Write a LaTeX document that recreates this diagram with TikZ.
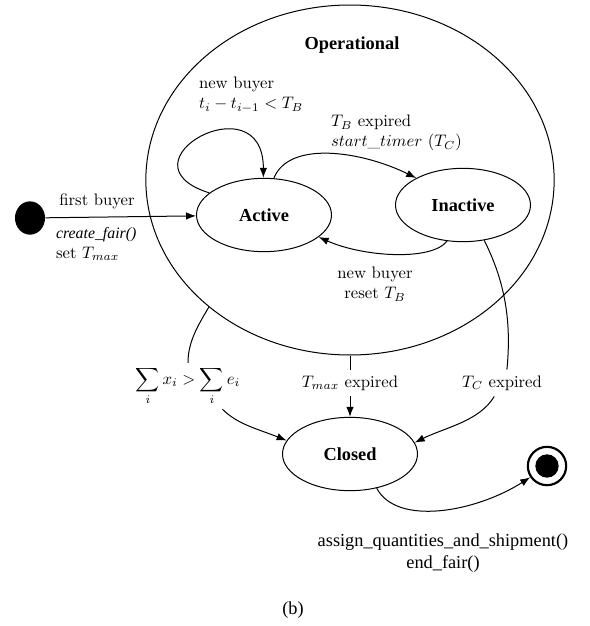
\documentclass[tikz,border=0pt]{standalone}
\usepackage{fontspec}
\newfontfamily\timesf{Liberation Serif}
\usetikzlibrary{arrows.meta,shapes.geometric}
\begin{document}
\begin{tikzpicture}[x=0.6pt,y=-0.6pt,line width=0.6pt,>={Latex[length=6pt,width=4.5pt]},
		state/.style={draw,ellipse,minimum width=81pt,minimum height=44pt,font=\timesf\bfseries\fontsize{11}{13}\selectfont},
		trig/.style={align=left,anchor=west}]
	\useasboundingbox (0,0) rectangle (590,626);
	% super state
	\node[draw,ellipse,minimum width=245pt,minimum height=210pt] (op) at (350,180) {};
	\node[font=\timesf\bfseries\fontsize{11}{13}\selectfont] (oplbl) at (352,45) {Operational};
	\node[state] (active) at (264,215) {Active};
	\node[state] (inactive) at (463,205) {Inactive};
	\node[state] (closed) at (350,454) {Closed};
	\node[ellipse,fill,minimum width=18pt,minimum height=20pt,inner sep=0pt] (start) at (30,218) {};
	\node[circle,draw,line width=1.3pt,minimum size=23pt,inner sep=0pt] (final) at (547,466) {};
	\node[circle,fill,minimum size=14pt,inner sep=0pt] (finaldot) at (final) {};
	% labels
	\node (firstlbl) at (97,201) {first buyer};
	\node[trig] (createlbl) at (50,244) {{\timesf\itshape\fontsize{9.5}{11}\selectfont create\_fair()}\\set $T_{max}$};
	\node[trig] (looplbl) at (193,95) {new buyer\\$t_i - t_{i-1} < T_B$};
	\node[trig] (expiredlbl) at (325,133) {$T_B$ expired\\$start\_timer$ $(T_C)$};
	\node[align=center] (resetlbl) at (375,284) {new buyer\\reset $T_B$};
	\node[inner sep=2pt] (sumlbl) at (188,386) {$\displaystyle\sum_i x_i > \sum_i e_i$};
	\node (tmaxlbl) at (350,383) {$T_{max}$ expired};
	\node (tclbl) at (502,383) {$T_C$ expired};
	\node[align=center,font=\timesf\fontsize{11}{13}\selectfont] (assignlbl) at (443,553) {assign\_quantities\_and\_shipment()\\end\_fair()};
	\node[font=\timesf\fontsize{11}{13}\selectfont] (caption) at (293,610) {(b)};
	% transitions
	\draw[->] (start) -- (active);
	\draw[->] (active.158) .. controls +(-95,-30) and +(0,-98) .. (active.91);
	\draw[->] (active.75) .. controls +(15,-38) and +(-55,-27) .. (inactive.150);
	\draw[->] (inactive.246) .. controls +(-15,20) and +(45,20) .. (active.-22);
	\draw (op.222) .. controls +(-12,20) and +(0,-20) .. (sumlbl.north);
	\draw[->] (sumlbl.-34) .. controls +(15,15) and +(-30,-12) .. (closed.168);
	\draw (op.south) -- (tmaxlbl.north);
	\draw[->] (tmaxlbl.south) -- (closed.north);
	\draw (inactive.-59) .. controls +(20,40) and +(5,-50) .. (tclbl.70);
	\draw[->] (tclbl.-120) .. controls +(-15,25) and +(30,-15) .. (closed.10);
	\draw[->] (closed.-52) .. controls +(20,38) and +(-55,35) .. (final.214);
\end{tikzpicture}
\end{document}
